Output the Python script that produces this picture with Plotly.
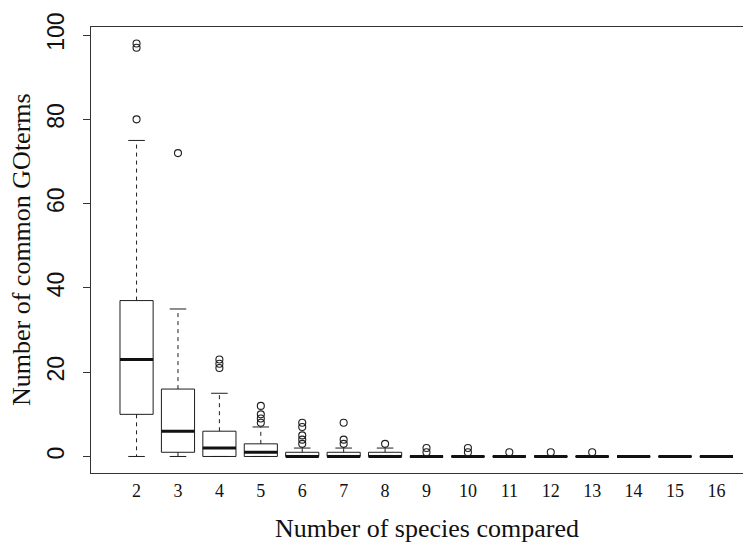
import plotly.graph_objects as go

# ---- data ----
species = [2, 3, 4, 5, 6, 7, 8, 9, 10, 11, 12, 13, 14, 15, 16]
lower_whisker = [0, 0, 0, 0, 0, 0, 0, 0, 0, 0, 0, 0, 0, 0, 0]
q1_vals = [10, 1, 0, 0, 0, 0, 0, 0, 0, 0, 0, 0, 0, 0, 0]
median_vals = [23, 6, 2, 1, 0, 0, 0, 0, 0, 0, 0, 0, 0, 0, 0]
q3_vals = [37, 16, 6, 3, 1, 1, 1, 0, 0, 0, 0, 0, 0, 0, 0]
upper_whisker = [75, 35, 15, 7, 2, 2, 2, 0, 0, 0, 0, 0, 0, 0, 0]
outliers = {
    2: [80, 97, 98],
    3: [72],
    4: [21, 22, 23],
    5: [8, 9, 10, 12],
    6: [3, 4, 5, 7, 8],
    7: [3, 4, 8],
    8: [3],
    9: [1, 2],
    10: [1, 2],
    11: [1],
    12: [1],
    13: [1],
}
y_ticks = [0, 20, 40, 60, 80, 100]
x_labels = [str(s) for s in species]

BOX_W = 0.8
CAP_W = 0.4
LINE = "#1e1e1e"

fig = go.Figure()

# whiskers (dashed)
wx, wy = [], []
for s, lo, a, b, hi in zip(species, lower_whisker, q1_vals, q3_vals, upper_whisker):
    wx += [s, s, None, s, s, None]
    wy += [b, hi, None, a, lo, None]
fig.add_trace(go.Scatter(x=wx, y=wy, mode="lines",
                         line=dict(color=LINE, width=1, dash="4px,4px"),
                         hoverinfo="skip", showlegend=False))

# whisker caps
cx, cy = [], []
for s, lo, hi in zip(species, lower_whisker, upper_whisker):
    cx += [s - CAP_W / 2, s + CAP_W / 2, None, s - CAP_W / 2, s + CAP_W / 2, None]
    cy += [hi, hi, None, lo, lo, None]
fig.add_trace(go.Scatter(x=cx, y=cy, mode="lines",
                         line=dict(color=LINE, width=1),
                         hoverinfo="skip", showlegend=False))

# boxes
fig.add_trace(go.Box(x=species, q1=q1_vals, median=median_vals, q3=q3_vals,
                     lowerfence=q1_vals, upperfence=q3_vals,
                     width=BOX_W, whiskerwidth=0,
                     fillcolor="white", line=dict(color=LINE, width=1),
                     boxpoints=False, hoverinfo="skip", showlegend=False))

# thick medians
mx, my = [], []
for s, m in zip(species, median_vals):
    mx += [s - BOX_W / 2, s + BOX_W / 2, None]
    my += [m, m, None]
fig.add_trace(go.Scatter(x=mx, y=my, mode="lines",
                         line=dict(color="#111111", width=3),
                         hoverinfo="skip", showlegend=False))

# outliers
ox, oy = [], []
for s, vals in outliers.items():
    for v in vals:
        ox.append(s)
        oy.append(v)
fig.add_trace(go.Scatter(x=ox, y=oy, mode="markers",
                         marker=dict(symbol="circle-open", size=7,
                                     color=LINE, line=dict(width=1.1, color=LINE)),
                         hoverinfo="skip", showlegend=False))

# page body has an 8px margin, so the figure is offset by 8px
L, T, B = 83, 19, 83.5
W, H = 754, 549
PW = W - L
PH = H - T - B

fig.update_layout(
    width=W, height=H,
    margin=dict(l=L, r=0, t=T, b=B, pad=0),
    plot_bgcolor="white", paper_bgcolor="white",
    showlegend=False,
    xaxis=dict(range=[0.9, 17.1], tickmode="array", tickvals=species,
               ticktext=x_labels, ticks="", showgrid=False, zeroline=False,
               showline=True, mirror=True, linecolor="#333333", linewidth=1,
               tickfont=dict(family="Liberation Serif", size=18, color="#111"),
               ticklabelstandoff=1, automargin=False),
    yaxis=dict(range=[-3.92, 101.92], tickmode="array", tickvals=y_ticks,
               ticktext=[str(t) for t in y_ticks], ticks="outside", ticklen=7,
               tickcolor="#333333", tickangle=-90, showgrid=False, zeroline=False,
               showline=True, linecolor="#333333", linewidth=1,
               tickfont=dict(family="Liberation Sans", size=23, color="#111"),
               ticklabelstandoff=10, automargin=False),
    annotations=[
        dict(text="Number of species compared", xref="paper", yref="paper",
             x=0.5, y=-(521 - (H - B)) / PH, xanchor="center", yanchor="middle",
             showarrow=False,
             font=dict(family="Liberation Serif", size=26, color="#111")),
        dict(text="Number of common GOterms", xref="paper", yref="paper",
             x=(13 - L) / PW, y=0.5, xanchor="center", yanchor="middle",
             textangle=-90, showarrow=False,
             font=dict(family="Liberation Serif", size=26, color="#111")),
    ],
)

fig.write_html("out.html")
